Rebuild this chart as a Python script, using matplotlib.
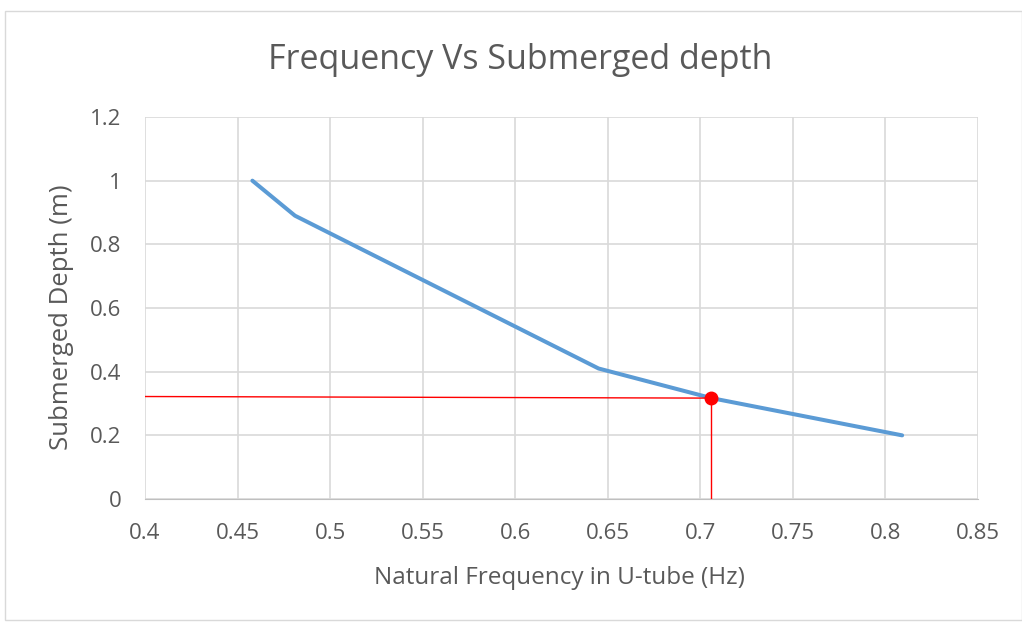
import matplotlib.pyplot as plt
from matplotlib.patches import Rectangle

# Data
frequency = [0.458, 0.481, 0.645, 0.706, 0.809]
depth = [1.0, 0.89, 0.41, 0.317, 0.2]

# highlighted point
point_f = 0.706
point_d = 0.317
line_start_d = 0.322

plt.rcParams['font.family'] = ['Open Sans', 'DejaVu Sans']

fig = plt.figure(figsize=(10.22, 6.22), dpi=100)
ax = fig.add_axes([0.1419, 0.1977, 0.8151, 0.6142])

# outer frame of the chart
fig.patches.append(Rectangle((0.005, 0.003), 0.995, 0.979, transform=fig.transFigure,
                             fill=False, edgecolor='#d9d9d9', linewidth=1))

ax.plot(frequency, depth, color='#5b9bd5', linewidth=2.9, solid_capstyle='round', zorder=3)

# red guide lines and marker
ax.plot([0.4, point_f], [line_start_d, point_d], color='red', linewidth=1, zorder=4)
ax.plot([point_f, point_f], [point_d, 0], color='red', linewidth=1, zorder=4)
ax.plot([point_f], [point_d], 'o', color='red', markersize=9, zorder=5)

ax.set_xlim(0.4, 0.85)
ax.set_ylim(0, 1.2)
ax.set_xticks([0.4, 0.45, 0.5, 0.55, 0.6, 0.65, 0.7, 0.75, 0.8, 0.85])
ax.set_xticklabels(['0.4', '0.45', '0.5', '0.55', '0.6', '0.65', '0.7', '0.75', '0.8', '0.85'])
ax.set_yticks([0, 0.2, 0.4, 0.6, 0.8, 1.0, 1.2])
ax.set_yticklabels(['0', '0.2', '0.4', '0.6', '0.8', '1', '1.2'])

ax.grid(True, color='#d9d9d9', linewidth=1.2)
ax.set_axisbelow(True)
for s in ['top', 'right', 'left']:
    ax.spines[s].set_visible(False)
ax.spines['bottom'].set_color('#bfbfbf')
ax.tick_params(length=0, labelsize=16, colors='#595959')
ax.tick_params(axis='x', pad=17)
ax.tick_params(axis='y', pad=17)

fig.text(520 / 1022, 1 - 60 / 622, 'Frequency Vs Submerged depth', fontsize=24.5,
         color='#595959', ha='center', va='center')
ax.set_xlabel('Natural Frequency in U-tube (Hz)', fontsize=17.5, color='#595959')
ax.set_ylabel('Submerged Depth (m)', fontsize=18.5, color='#595959')
ax.xaxis.set_label_coords(0.498, -0.175)
ax.yaxis.set_label_coords(-0.085, 0.476)

fig.savefig('out.png', dpi=100)
